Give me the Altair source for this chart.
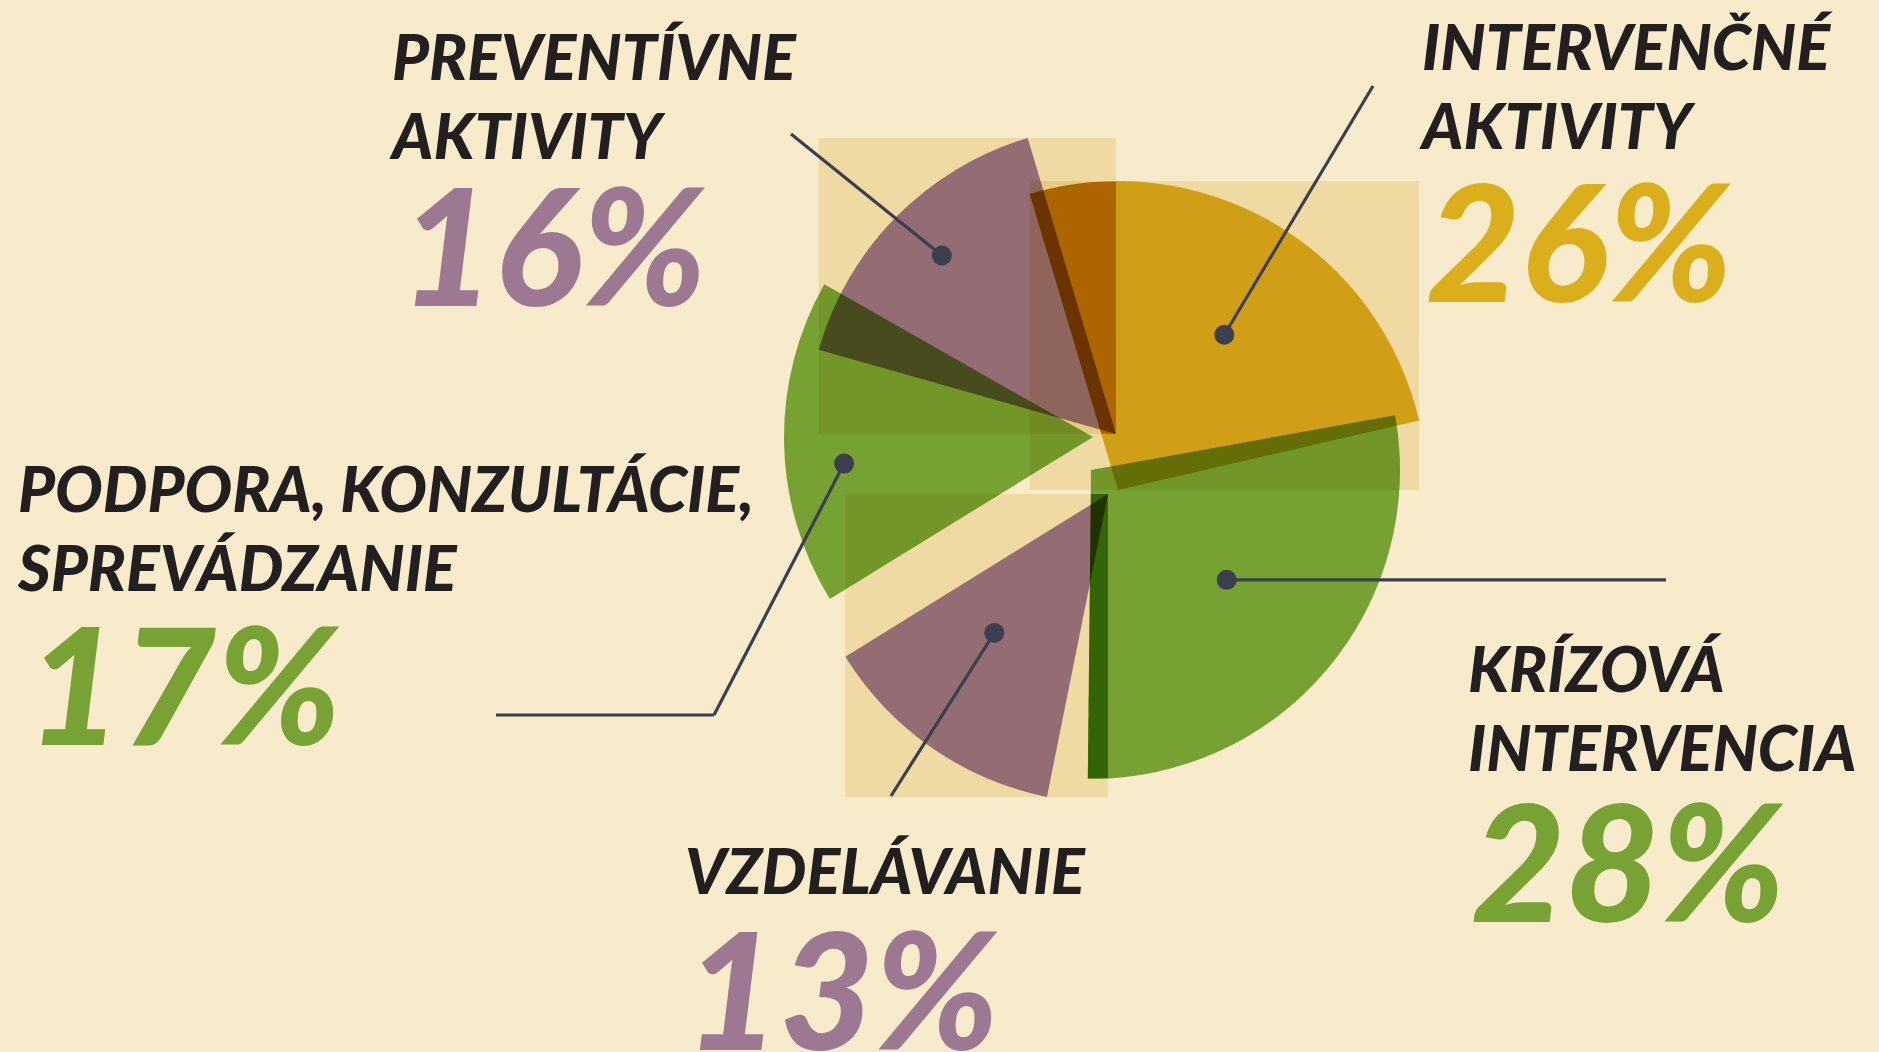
import math
import numpy as np
import altair as alt
import pandas as pd

W, H = 1879, 1052

# ---------------- data ----------------
keys = ["intervencne", "krizova", "vzdelavanie", "podpora", "preventivne"]
label_lines = [
    ["INTERVENČNÉ", "AKTIVITY"],
    ["KRÍZOVÁ", "INTERVENCIA"],
    ["VZDELÁVANIE"],
    ["PODPORA, KONZULTÁCIE,", "SPREVÁDZANIE"],
    ["PREVENTÍVNE", "AKTIVITY"],
]
values = [26, 28, 13, 17, 16]
pct_labels = ["26%", "28%", "13%", "17%", "16%"]

# ---------------- layout / style ----------------
BG = "#F7EBCB"
BOX = "#F6EDCC"
INK = "#231F20"
LEAD = "#3C3F4D"
slice_colors = ["#E0BA21", "#7BAF40", "#9E7EB5", "#7BAF40", "#9E7EB5"]
text_colors = ["#DBAF1C", "#78A234", "#9C7892", "#78A234", "#9C7892"]
START_DEG = -16.6
RADIUS = 309
center_x = [1118, 1091, 1108, 1093, 1116]
center_y = [490, 470, 494, 437, 434]
turn_deg = [0, 2.8, 13.6, 13.8, 0]
has_box = [True, False, True, False, True]
# extra overlap tints: (slice index, box owner index, multiply colour)
tints = [(1, 2, "#71AA1F"), (0, 4, "#DBAD0D")]
dot_frac = [0.609, 0.565, 0.581, 0.81, 0.807]
dot_turn = [4.2, -1.2, 4.5, -5.1, 1.1]
leader_paths = [[(1373, 86)], [(1666, None)], [(891, 796)], [(714, 715), (496, 715)], [(791, 134)]]
label_x = [1422, 1468, 685, 18, 392]
label_y = [70, 692, 894, 512, 80]
LINE_GAP = 79
pct_x = [1426, 1471, 685, 27, 400]
pct_y = [302, 922, 1050, 745, 306]
FONT = "Lato"

# ---------------- derived tables ----------------
rows, dots, leads, labs, pcts = [], [], [], [], []
boxes = {}
angles = {}
cum = 0.0
for i, k in enumerate(keys):
    p0 = cum + turn_deg[i] / 3.6
    p1 = p0 + values[i]
    cum += values[i]
    rows.append(dict(key=k, p0=p0, p1=p1, cx=center_x[i], cy=center_y[i], col=slice_colors[i]))
    a0 = START_DEG + 3.6 * p0
    a1 = START_DEG + 3.6 * p1
    angles[i] = (a0, a1)
    cx, cy = center_x[i], center_y[i]
    if has_box[i]:
        pts = [(cx, cy)]
        for a in (a0, a1):
            pts.append((cx + RADIUS * math.sin(math.radians(a)), cy - RADIUS * math.cos(math.radians(a))))
        q = math.ceil(a0 / 90.0)
        while q * 90 < a1:
            a = q * 90
            pts.append((cx + RADIUS * math.sin(math.radians(a)), cy - RADIUS * math.cos(math.radians(a))))
            q += 1
        xs_ = [p[0] for p in pts]
        ys_ = [p[1] for p in pts]
        boxes[i] = dict(x0=min(xs_), x1=max(xs_), y0=min(ys_), y1=max(ys_))
    am = math.radians((a0 + a1) / 2 + dot_turn[i])
    dx = cx + dot_frac[i] * RADIUS * math.sin(am)
    dy = cy - dot_frac[i] * RADIUS * math.cos(am)
    dots.append(dict(x=dx, y=dy))
    px, py = dx, dy
    for (ex, ey) in leader_paths[i]:
        ey = py if ey is None else ey
        leads.append(dict(x=px, y=py, x2=ex, y2=ey))
        px, py = ex, ey
    for j, line in enumerate(label_lines[i]):
        labs.append(dict(x=label_x[i], y=label_y[i] + j * LINE_GAP, text=line))
    pcts.append(dict(x=pct_x[i], y=pct_y[i], text=pct_labels[i], col=text_colors[i]))


def wedge_in_box(i, b):
    """horizontal extent of slice i clipped to box b, row by row"""
    cx, cy = center_x[i], center_y[i]
    a0, a1 = angles[i]
    out = []
    xsamp = np.arange(b["x0"], b["x1"] + 0.01, 0.25)
    for y in np.arange(math.floor(b["y0"]), math.ceil(b["y1"]) + 1, 1.0):
        yy = min(max(y, b["y0"]), b["y1"])
        ddx = xsamp - cx
        ddy = yy - cy
        dist = np.sqrt(ddx ** 2 + ddy ** 2)
        ang = np.degrees(np.arctan2(ddx, -ddy))
        rel = np.mod(ang - a0, 360.0)
        ins = (dist <= RADIUS) & (rel <= (a1 - a0))
        if ins.any():
            sel = xsamp[ins]
            out.append(dict(y=yy, xa=sel.min(), xb=sel.max()))
    return pd.DataFrame(out)


xs = alt.Scale(domain=[0, W], nice=False, zero=False)
ys = alt.Scale(domain=[0, H], nice=False, zero=False, reverse=True)


def X(f):
    return alt.X(f, type="quantitative", scale=xs, axis=None)


def Y(f):
    return alt.Y(f, type="quantitative", scale=ys, axis=None)


bg = alt.Chart(pd.DataFrame({"a": [0]})).mark_rect(color=BG).encode(
    x=alt.value(0), x2=alt.value(W), y=alt.value(0), y2=alt.value(H)
)

arcs = alt.Chart(pd.DataFrame(rows)).mark_arc(radius=RADIUS, blend="multiply").encode(
    x=X("cx"),
    y=Y("cy"),
    theta=alt.Theta("p0:Q", scale=alt.Scale(domain=[0, 100], range=[math.radians(START_DEG), math.radians(START_DEG) + 2 * math.pi], nice=False, zero=False)),
    theta2=alt.Theta2("p1"),
    color=alt.Color("col:N", scale=None),
)

rects = alt.Chart(pd.DataFrame(list(boxes.values()))).mark_rect(color=BOX, blend="multiply").encode(
    x=X("x0"), x2=alt.X2("x1"), y=Y("y0"), y2=alt.Y2("y1")
)

tint_layers = []
for (si, bi, tc) in tints:
    df = wedge_in_box(si, boxes[bi])
    tint_layers.append(
        alt.Chart(df).mark_area(orient="horizontal", color=tc, blend="multiply").encode(
            y=Y("y"), x=X("xa"), x2=alt.X2("xb")
        )
    )

rules = alt.Chart(pd.DataFrame(leads)).mark_rule(color=LEAD, strokeWidth=3.2).encode(
    x=X("x"), y=Y("y"), x2=alt.X2("x2"), y2=alt.Y2("y2")
)

pts = alt.Chart(pd.DataFrame(dots)).mark_circle(size=400, color=LEAD, opacity=1).encode(
    x=X("x"), y=Y("y")
)

labels = alt.Chart(pd.DataFrame(labs)).mark_text(
    font=FONT, fontSize=63, fontWeight=900, fontStyle="italic", align="left", baseline="alphabetic", color=INK
).encode(x=X("x"), y=Y("y"), text="text:N")

percents = alt.Chart(pd.DataFrame(pcts)).mark_text(
    font=FONT, fontSize=163, fontWeight=900, fontStyle="italic", align="left", baseline="alphabetic"
).encode(x=X("x"), y=Y("y"), text="text:N", color=alt.Color("col:N", scale=None))

chart = alt.layer(bg, arcs, rects, *tint_layers, rules, pts, labels, percents).properties(
    width=W, height=H, padding=0, autosize="none", background=BG
).configure_view(strokeWidth=0)

chart.save("out.html", embed_options={"renderer": "svg", "actions": False})
